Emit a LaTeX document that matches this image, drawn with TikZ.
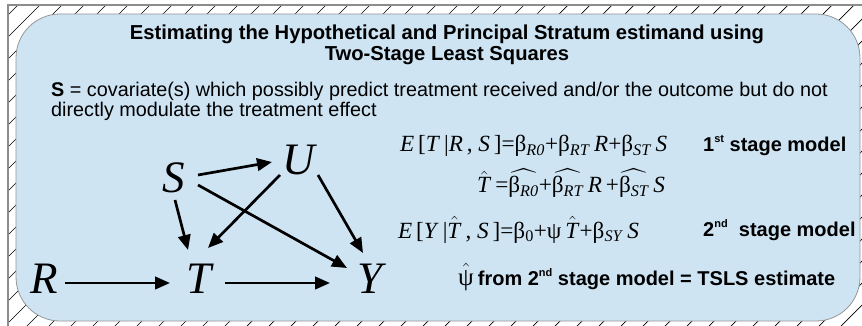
\documentclass[tikz,border=0pt]{standalone}
\usepackage{amsmath}
\usepackage{exscale}
\usepackage{fontspec}
\setmainfont{Liberation Sans}
\newfontfamily\tms{Liberation Serif}
\usetikzlibrary{arrows.meta}
\definecolor{boxblue}{RGB}{206,228,243}
\definecolor{boxedge}{RGB}{150,150,150}
\definecolor{frameedge}{RGB}{140,140,140}
\newcommand\sbs[1]{\textsubscript{\textit{#1}}}
\newcommand\hatT{\(\hat{\hbox{\textit{T}}}\)}
\newcommand\sups[1]{\raisebox{0.45em}{\fontsize{11}{12}\selectfont #1}}
\tikzset{
  hatch/.style={draw=black, line width=0.7pt},
  panel/.style={fill=boxblue, draw=boxedge, line width=0.8pt, rounded corners=44pt},
  frameline/.style={draw=frameedge, line width=2pt},
  headtxt/.style={inner sep=0, anchor=base, font=\fontsize{20.2}{22}\selectfont\bfseries},
  bodytxt/.style={inner sep=0, anchor=base west, font=\fontsize{19.8}{22}\selectfont},
  eqtxt/.style={inner sep=0, anchor=base west, font=\tms\fontsize{23.2}{26}\selectfont},
  labtxt/.style={inner sep=0, anchor=base west, font=\fontsize{20}{22}\selectfont\bfseries},
  var/.style={inner sep=0, anchor=base, font=\tms\itshape\fontsize{45}{50}\selectfont},
  arr/.style={line width=2.7pt, -{Triangle[length=15pt,width=12.5pt]}}
}
\begin{document}
\begin{tikzpicture}[x=1pt,y=-1pt]
\useasboundingbox (0,0) rectangle (862,326);
% hatching
\begin{scope}
\clip (8,5) rectangle (862,326);
\foreach \c in {1,23,...,1210} {
  \draw[hatch] (\c,0) -- (\c-330,330);
}
\end{scope}
\draw[frameline] (8,326) -- (8,5) -- (862,5);
\path[panel] (16,14) rectangle (860,321);
% title and description
\node[headtxt] (t1) at (447,40) {Estimating the Hypothetical and Principal Stratum estimand using};
\node[headtxt] (t2) at (447,61) {Two-Stage Least Squares};
\node[bodytxt] (b1) at (51,97) {\textbf{S} = covariate(s) which possibly predict treatment received and/or the outcome but do not};
\node[bodytxt] (b2) at (51,117) {directly modulate the treatment effect};
% DAG
\node[var] (R) at (44,293) {R};
\node[var] (T) at (199,293) {T};
\node[var] (Y) at (370,293) {Y};
\node[var] (S) at (174,192) {S};
\node[var] (U) at (299,175) {U};
\draw[arr] ([shift={(21,-10)}]R.base) -- ([shift={(-29,-10)}]T.base);
\draw[arr] ([shift={(26,-10)}]T.base) -- ([shift={(-40,-10)}]Y.base);
\draw[arr] ([shift={(24,-17)}]S.base) -- ([shift={(-27,-13)}]U.base);
\draw[arr] ([shift={(1,8)}]S.base) -- ([shift={(-11,-43)}]T.base);
\draw[arr] ([shift={(-19,0)}]U.base) -- ([shift={(9,-45)}]T.base);
\draw[arr] ([shift={(24,-7)}]S.base) -- ([shift={(-23,-25)}]Y.base);
\draw[arr] ([shift={(19,0)}]U.base) -- ([shift={(-7,-40)}]Y.base);
% equations
\node[eqtxt] (e1) at (400,152) {\textit{E}\,[\textit{T}\,|\textit{R}\,, \textit{S}\,]=β\sbs{R0}+β\sbs{RT}\,\textit{R}+β\sbs{ST}\,\textit{S}};
\node[labtxt] (l1) at (703,151) {1\sups{st} stage model};
\node[eqtxt] (e2) at (477,193) {\hatT\,=\(\widehat{\hbox{β\sbs{R0}}}\)+\(\widehat{\hbox{β\sbs{RT}}}\)\,\textit{R}\,+\(\widehat{\hbox{β\sbs{ST}}}\)\,\textit{S}};
\node[eqtxt] (e3) at (398,238) {\textit{E}\,[\textit{Y}\,|\hatT\,, \textit{S}\,]=β\textsubscript{0}+ψ\,\hatT+β\sbs{SY}\,\textit{S}};
\node[labtxt] (l2) at (703,236) {2\sups{nd}\ \ stage model};
\node[labtxt] (l3) at (458,285) {{\normalfont\tms\fontsize{25}{26}\selectfont\(\hat{\hbox{ψ}}\)}\hspace{4pt}from 2\sups{nd} stage model = TSLS estimate};
\end{tikzpicture}
\end{document}
